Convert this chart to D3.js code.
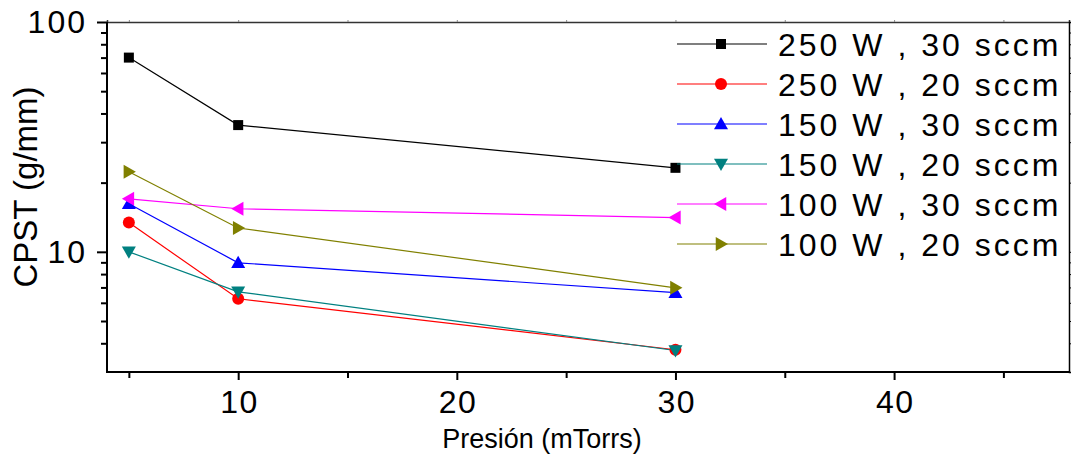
<!DOCTYPE html>
<html>
<head>
<meta charset="utf-8">
<script src="https://cdn.jsdelivr.net/npm/d3@7"></script>
<style>
  body { margin: 0; background: #fff; }
  text { font-family: Arial, "Liberation Sans", sans-serif; fill: #000; }
</style>
</head>
<body>
<script>
// data
var pressures = [5, 10, 30];
var seriesLabels = ["250 W , 30 sccm", "250 W , 20 sccm", "150 W , 30 sccm",
                    "150 W , 20 sccm", "100 W , 30 sccm", "100 W , 20 sccm"];
var s250w30 = [70, 35.6, 23.2];
var s250w20 = [13.4, 6.25, 3.75];
var s150w30 = [16.2, 8.96, 6.64];
var s150w20 = [10, 6.7, 3.72];
var s100w30 = [17.0, 15.4, 14.1];
var s100w20 = [22.3, 12.7, 6.97];
var seriesColors = ["#000000", "#ff0000", "#0000ff", "#008080", "#ff00ff", "#808000"];
var seriesMarkers = ["square", "circle", "up", "down", "left", "right"];
var xMajor = [10, 20, 30, 40];
var xMinor = [5, 15, 25, 35, 45];
var yMajor = [10, 100];
var yMinor = [4, 5, 6, 7, 8, 9, 20, 30, 40, 50, 60, 70, 80, 90];

var allSeries = [s250w30, s250w20, s150w30, s150w20, s100w30, s100w20];

var W = 1071, H = 456;
var mLeft = 107, mRight = 1069, mTop = 22, mBottom = 372;

var svg = d3.select("body").append("svg")
  .attr("width", W)
  .attr("height", H);

var x = d3.scaleLinear().domain([4, 48]).range([mLeft, mRight]);
var y = d3.scaleLog().domain([3, 100]).range([mBottom, mTop]);

function marker(sel, type, color, cx, cy) {
  if (type === "square") {
    sel.append("rect")
      .attr("x", cx - 5).attr("y", cy - 5)
      .attr("width", 10).attr("height", 10)
      .attr("fill", color);
  } else if (type === "circle") {
    sel.append("circle")
      .attr("cx", cx).attr("cy", cy).attr("r", 6)
      .attr("fill", color);
  } else {
    var s = 7;
    var pts;
    if (type === "up") pts = [[0, -s], [s, s * 0.75], [-s, s * 0.75]];
    if (type === "down") pts = [[0, s], [s, -s * 0.75], [-s, -s * 0.75]];
    if (type === "left") pts = [[-s, 0], [s * 0.75, -s], [s * 0.75, s]];
    if (type === "right") pts = [[s, 0], [-s * 0.75, -s], [-s * 0.75, s]];
    sel.append("path")
      .attr("d", "M" + pts.map(function(p) { return (cx + p[0]) + "," + (cy + p[1]); }).join("L") + "Z")
      .attr("fill", color);
  }
}

/* frame: top and right */
svg.append("g")
  .attr("transform", "translate(0," + mTop + ")")
  .call(d3.axisTop(x).tickValues(xMajor.concat(xMinor)).tickSize(2).tickFormat(""))
  .call(function(g) {
    g.select(".domain").attr("stroke", "#333").attr("stroke-width", 1.5);
    g.selectAll(".tick line").attr("stroke", "#888");
  });

svg.append("g")
  .attr("transform", "translate(" + mRight + ",0)")
  .call(d3.axisRight(y).tickValues(yMajor.concat(yMinor)).tickSize(2).tickFormat(""))
  .call(function(g) {
    g.select(".domain").attr("stroke", "#000").attr("stroke-width", 1.5);
  });

/* x axis */
var gx = svg.append("g")
  .attr("transform", "translate(0," + mBottom + ")")
  .call(d3.axisBottom(x).tickValues(xMajor).tickSize(8).tickSizeOuter(0).tickPadding(10).tickFormat(d3.format("d")));
gx.select(".domain").attr("stroke-width", 2).attr("d", "M" + (mLeft - 1) + ",0H" + mRight);
gx.selectAll(".tick line").attr("stroke-width", 2);
gx.selectAll(".tick text")
  .style("font-size", "32px")
  .style("letter-spacing", "1.5px")
  .attr("dx", "0.75px")
  .attr("fill", "#000");

svg.append("g")
  .attr("transform", "translate(0," + mBottom + ")")
  .call(d3.axisBottom(x).tickValues(xMinor).tickSize(6).tickFormat(""))
  .call(function(g) {
    g.select(".domain").remove();
    g.selectAll(".tick line").attr("stroke-width", 2);
  });

/* y axis */
var gy = svg.append("g")
  .attr("transform", "translate(" + mLeft + ",0)")
  .call(d3.axisLeft(y).tickValues(yMajor).tickSize(10).tickSizeOuter(0).tickPadding(10).tickFormat(d3.format("d")));
gy.select(".domain").attr("stroke-width", 2).attr("d", "M0," + mTop + "V" + (mBottom + 1));
gy.selectAll(".tick line").attr("stroke-width", 2);
gy.selectAll(".tick text")
  .style("font-size", "32px")
  .style("letter-spacing", "2px")
  .attr("fill", "#000");

svg.append("g")
  .attr("transform", "translate(" + mLeft + ",0)")
  .call(d3.axisLeft(y).tickValues(yMinor).tickSize(6).tickFormat(""))
  .call(function(g) {
    g.select(".domain").remove();
    g.selectAll(".tick line").attr("stroke-width", 2);
  });

/* axis titles */
svg.append("text")
  .attr("x", 542)
  .attr("y", 448)
  .attr("text-anchor", "middle")
  .style("font-size", "27px")
  .text("Presión (mTorrs)");

svg.append("text")
  .attr("transform", "translate(37,187) rotate(-90)")
  .attr("text-anchor", "middle")
  .style("font-size", "33px")
  .text("CPST (g/mm)");

/* series */
var line = d3.line()
  .x(function(d, i) { return x(pressures[i]); })
  .y(function(d) { return y(d); });

allSeries.forEach(function(vals, k) {
  svg.append("path")
    .datum(vals)
    .attr("d", line)
    .attr("fill", "none")
    .attr("stroke", seriesColors[k])
    .attr("stroke-width", 1.2);
});

allSeries.forEach(function(vals, k) {
  var g = svg.append("g");
  vals.forEach(function(v, i) {
    marker(g, seriesMarkers[k], seriesColors[k], x(pressures[i]), y(v));
  });
});

/* legend */
var legend = svg.append("g").attr("class", "legend");
seriesLabels.forEach(function(label, k) {
  var ly = 44 + k * 40;
  legend.append("line")
    .attr("x1", 677).attr("x2", 767)
    .attr("y1", ly).attr("y2", ly)
    .attr("stroke", seriesColors[k])
    .attr("stroke-width", 1.2);
  marker(legend, seriesMarkers[k], seriesColors[k], 721, ly);
  legend.append("text")
    .attr("x", 778)
    .attr("y", ly + 12)
    .style("font-size", "32px")
    .style("letter-spacing", "3px")
    .text(label);
});
</script>
</body>
</html>
